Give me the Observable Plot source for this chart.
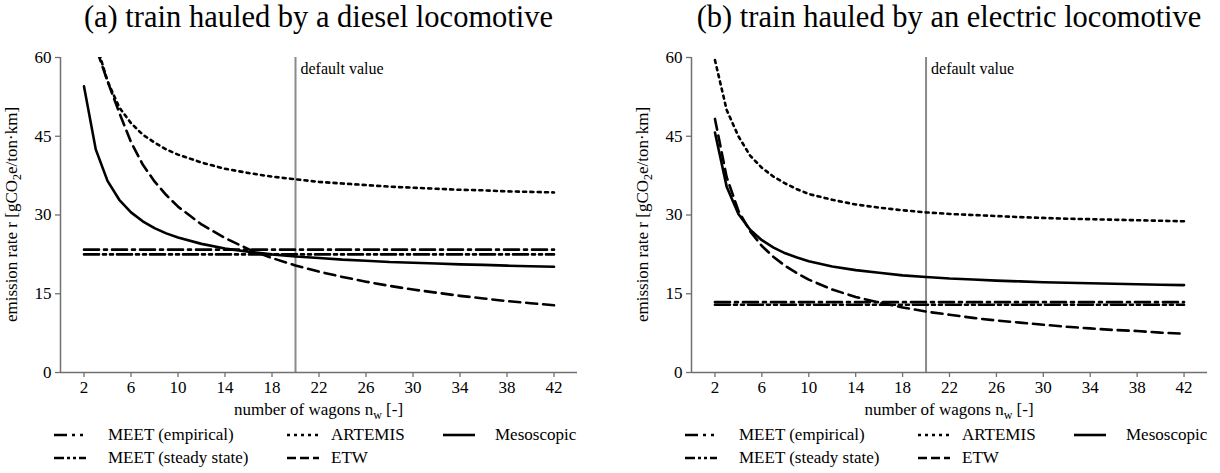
<!DOCTYPE html>
<html><head><meta charset="utf-8">
<script src="https://cdn.jsdelivr.net/npm/d3@7"></script>
<script src="https://cdn.jsdelivr.net/npm/@observablehq/plot@0.6"></script>
<style>
body{margin:0;background:#fff;}
#wrap{position:relative;width:1220px;height:473px;font-family:"Liberation Serif","Times New Roman",serif;color:#000;overflow:hidden;background:#fff}
.panel{position:absolute;top:0;width:610px;height:473px}
.title{position:absolute;top:0px;font-size:30.5px;line-height:35px;white-space:nowrap;transform:translateX(-50%)}
.legtext{position:absolute;font-size:17px;line-height:20px;white-space:nowrap}
.legsw{position:absolute}
</style></head><body><div id="wrap"></div>
<script>
// ---------- data ----------
const wagons = [2,3,4,5,6,7,8,9,10,12,14,16,18,20,22,24,26,28,30,32,34,36,38,40,42];
const meetRange = [2, 42];
const xTicks = [2,6,10,14,18,22,26,30,34,38,42];
const yTicks = [0,15,30,45,60];
const defaultWagons = 20;
const defaultLabel = "default value";

// (a) diesel
const dieselMeetEmpirical = 23.4;
const dieselMeetSteady = 22.5;
const dieselArtemis = [79.8,63.0,55.5,50.5,47.5,45.3,43.8,42.5,41.5,40.0,38.8,38.0,37.3,36.8,36.3,36.0,35.7,35.4,35.2,35.0,34.8,34.7,34.5,34.4,34.3];
const dieselEtw = [87.0,62.0,55.5,49.5,43.9,39.6,36.4,33.8,31.6,28.2,25.6,23.5,21.8,20.4,19.2,18.2,17.3,16.5,15.8,15.2,14.6,14.1,13.6,13.2,12.8];
const dieselMeso = [54.5,42.5,36.5,32.9,30.5,28.8,27.5,26.5,25.7,24.5,23.6,23.0,22.5,22.1,21.8,21.5,21.3,21.05,20.9,20.75,20.6,20.5,20.35,20.25,20.15];

// (b) electric
const electricMeetEmpirical = 13.4;
const electricMeetSteady = 12.9;
const electricArtemis = [59.5,50.0,45.0,41.3,39.0,37.3,36.0,34.9,34.0,32.9,32.0,31.4,30.9,30.5,30.2,30.0,29.8,29.6,29.45,29.3,29.2,29.1,29.0,28.9,28.8];
const electricEtw = [48.3,37.2,30.8,26.9,24.1,22.0,20.3,18.9,17.7,15.8,14.4,13.3,12.4,11.6,11.0,10.4,9.9,9.5,9.1,8.7,8.4,8.1,7.9,7.6,7.4];
const electricMeso = [45.7,35.4,30.2,27.2,25.2,23.8,22.7,21.9,21.2,20.2,19.5,19.0,18.5,18.2,17.9,17.7,17.5,17.35,17.2,17.1,17.0,16.9,16.8,16.72,16.65];

const titles = ["(a) train hauled by a diesel locomotive", "(b) train hauled by an electric locomotive"];
const seriesNames = ["MEET (empirical)", "MEET (steady state)", "ARTEMIS", "ETW", "Mesoscopic"];

// ---------- styles ----------
const dashes = {
  "MEET (empirical)": "15,5,3,5",
  "MEET (steady state)": "15,4,3,4,3,4",
  "ARTEMIS": "3,4.3",
  "ETW": "11,6",
  "Mesoscopic": null
};
const legendSwatch = {
  "MEET (empirical)": "13,5,3,5,3,5",
  "MEET (steady state)": "10,3,3,3,3,3,10",
  "ARTEMIS": "3,4",
  "ETW": "9,4",
  "Mesoscopic": null
};
const LW = 2.6;
const axisColor = "#707070";

function table(arr) { return wagons.map((n, i) => ({n, r: arr[i]})); }
function flat(v) { return meetRange.map(n => ({n, r: v})); }

function lineMark(data, name) {
  const o = {x: "n", y: "r", stroke: "#000", strokeWidth: LW, clip: true, curve: "linear"};
  if (dashes[name]) o.strokeDasharray = dashes[name];
  return Plot.line(data, o);
}

function panel(left, ml, mr, title, d) {
  const W = 610, H = 382, mt = 17, mb = 50;
  const pw = W - ml - mr, ph = H - mt - mb;
  const div = document.createElement("div");
  div.className = "panel";
  div.style.left = left + "px";
  document.getElementById("wrap").appendChild(div);

  const t = document.createElement("div");
  t.className = "title";
  t.style.left = (ml + pw / 2) + "px";
  t.textContent = title;
  div.appendChild(t);

  const chart = Plot.plot({
    width: W, height: H, marginTop: mt, marginBottom: mb, marginLeft: ml, marginRight: mr,
    style: {fontFamily: "'Liberation Serif', 'Times New Roman', serif", fontSize: "17px", color: "#000", background: "transparent", overflow: "visible"},
    x: {domain: [0, 44]},
    y: {domain: [0, 60]},
    marks: [
      Plot.ruleX([defaultWagons], {stroke: "#8a8a8a", strokeWidth: 2}),
      lineMark(flat(d.meetEmp), "MEET (empirical)"),
      lineMark(flat(d.meetSteady), "MEET (steady state)"),
      lineMark(table(d.artemis), "ARTEMIS"),
      lineMark(table(d.etw), "ETW"),
      lineMark(table(d.meso), "Mesoscopic"),
      Plot.ruleY([0], {stroke: axisColor, strokeWidth: 1.5}),
      Plot.ruleX([0], {stroke: axisColor, strokeWidth: 1.5}),
      Plot.axisX(xTicks, {tickSize: 5, tickPadding: 3, stroke: axisColor, strokeWidth: 1.3, label: null, fontSize: 17}),
      Plot.axisY(yTicks, {tickSize: 5, tickPadding: 4, stroke: axisColor, strokeWidth: 1.3, label: null, fontSize: 17}),
      Plot.text([{n: defaultWagons, r: 60, label: defaultLabel}], {x: "n", y: "r", text: "label", textAnchor: "start", dx: 5, dy: 11, fontSize: 16})
    ]
  });
  chart.style.position = "absolute";
  chart.style.left = "0px";
  chart.style.top = "40px";
  div.appendChild(chart);

  const svg = d3.select(chart);
  const yl = svg.append("text")
    .attr("transform", `translate(${ml - 43},${mt + ph / 2}) rotate(-90)`)
    .attr("text-anchor", "middle")
    .attr("fill", "#000")
    .style("font-size", "17px");
  yl.append("tspan").text("emission rate r [gCO");
  yl.append("tspan").attr("dy", 4).style("font-size", "12px").text("2");
  yl.append("tspan").attr("dy", -4).text("e/ton·km]");

  const xl = svg.append("text")
    .attr("x", ml + pw / 2).attr("y", mt + ph + 43)
    .attr("text-anchor", "middle")
    .attr("fill", "#000")
    .style("font-size", "17px");
  xl.append("tspan").text("number of wagons n");
  xl.append("tspan").attr("dy", 4).style("font-size", "12px").text("w");
  xl.append("tspan").attr("dy", -4).text(" [-]");

  // legend
  const cols = [[ml - 6, ml + 48], [ml + 227, ml + 271], [ml + 383, ml + 435]];
  const layout = [
    ["MEET (empirical)", 0, 0], ["ARTEMIS", 0, 1], ["Mesoscopic", 0, 2],
    ["MEET (steady state)", 1, 0], ["ETW", 1, 1]
  ];
  const rowsY = [435, 458];
  for (const [name, row, col] of layout) {
    const cy = rowsY[row];
    const s = d3.select(div).append("svg").attr("class", "legsw")
      .attr("width", 34).attr("height", 8)
      .style("left", cols[col][0] + "px").style("top", (cy - 4) + "px");
    const ln = s.append("line").attr("x1", 0).attr("x2", 32).attr("y1", 4).attr("y2", 4)
      .attr("stroke", "#000").attr("stroke-width", LW);
    if (legendSwatch[name]) ln.attr("stroke-dasharray", legendSwatch[name]);
    d3.select(div).append("div").attr("class", "legtext")
      .style("left", cols[col][1] + "px").style("top", (cy - 10) + "px").text(name);
  }
}

panel(0, 60, 33, titles[0], {meetEmp: dieselMeetEmpirical, meetSteady: dieselMeetSteady, artemis: dieselArtemis, etw: dieselEtw, meso: dieselMeso});
panel(610, 81, 13, titles[1], {meetEmp: electricMeetEmpirical, meetSteady: electricMeetSteady, artemis: electricArtemis, etw: electricEtw, meso: electricMeso});
</script></body></html>
